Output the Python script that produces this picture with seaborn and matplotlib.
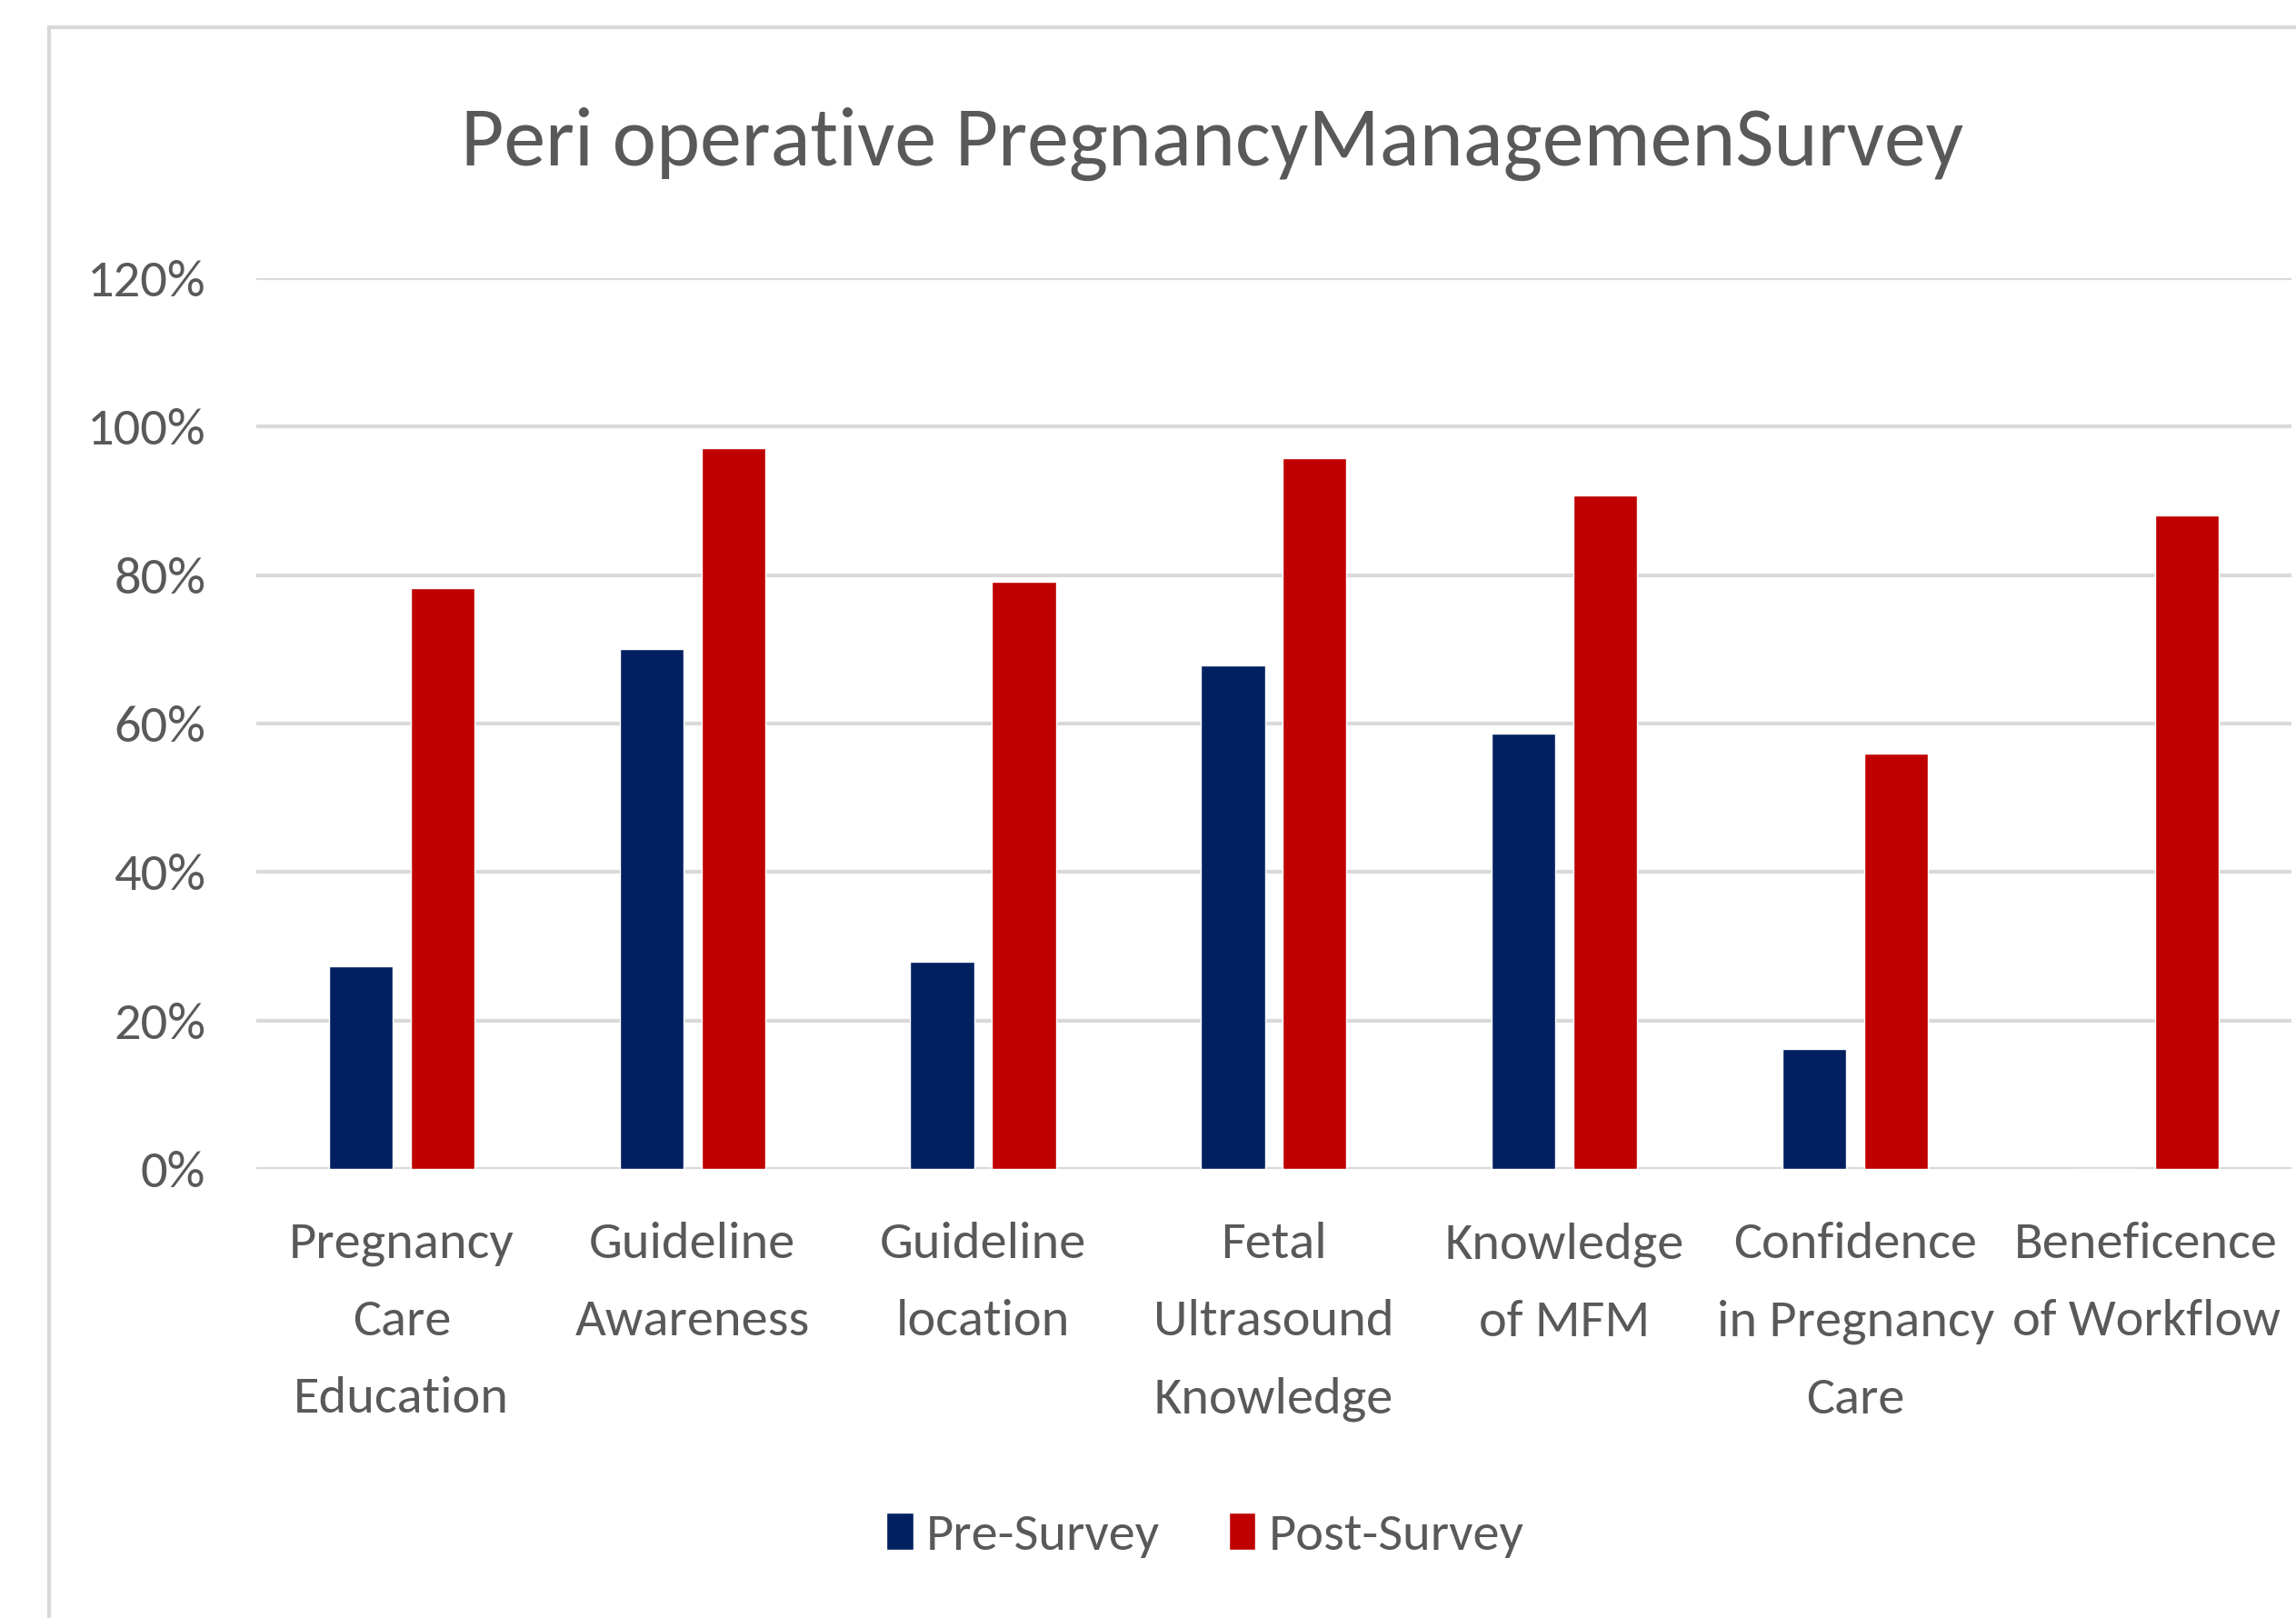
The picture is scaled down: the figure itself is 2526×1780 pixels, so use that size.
import matplotlib
matplotlib.use("Agg")
import matplotlib.pyplot as plt
from matplotlib.patches import Rectangle
from matplotlib.ticker import FuncFormatter
import pandas as pd
import seaborn as sns

# data (percent of respondents)
categories = [
    "Pregnancy\nCare\nEducation",
    "Guideline\nAwareness",
    "Guideline\nlocation",
    "Fetal\nUltrasound\nKnowledge",
    "Knowledge\nof MFM",
    "Confidence\nin Pregnancy\nCare",
    "Beneficence\nof Workflow",
]
pre_survey = [27.3, 70.0, 27.9, 67.8, 58.7, 16.2, 0.0]
post_survey = [78.3, 97.1, 79.1, 95.7, 90.7, 56.0, 88.0]
series_names = ["Pre-Survey", "Post-Survey"]
y_ticks = [0, 20, 40, 60, 80, 100, 120]

df = pd.DataFrame({
    "Category": categories * 2,
    "Survey": [series_names[0]] * len(categories) + [series_names[1]] * len(categories),
    "Value": pre_survey + post_survey,
})

sns.set_theme(style="white")
plt.rcParams["font.family"] = ["Carlito", "DejaVu Sans"]
text_grey = "#595959"
grid_grey = "#d9d9d9"

fig = plt.figure(figsize=(25.26, 17.80), dpi=100)
ax = fig.add_axes([0.1116, 0.2775, 0.8864, 0.5506])

sns.barplot(data=df, x="Category", y="Value", hue="Survey", order=categories,
            hue_order=series_names, palette=["#002060", "#C00000"],
            width=0.5625, gap=0.22, saturation=1, ax=ax)

ax.set_ylim(0, 120)
ax.set_yticks(y_ticks)
ax.yaxis.set_major_formatter(FuncFormatter(lambda v, p: f"{int(v)}%"))
ax.set_xlim(-0.5, len(categories) - 0.5)
ax.grid(axis="y", color=grid_grey, linewidth=3)
ax.set_axisbelow(True)
for s in ax.spines.values():
    s.set_visible(False)
ax.tick_params(axis="both", length=0, labelsize=42, colors=text_grey, pad=40)
ax.tick_params(axis="x", pad=42)
for lbl in ax.get_xticklabels():
    lbl.set_linespacing(1.9)
ax.set_xlabel("")
ax.set_ylabel("")

# legend at the bottom
handles, labels = ax.get_legend_handles_labels()
ax.get_legend().remove()
fig.legend(handles, labels, loc="center", bbox_to_anchor=(0.525, 0.051), ncol=2,
           frameon=False, fontsize=42, labelcolor=text_grey, handlelength=0.5,
           handleheight=0.68, handletextpad=0.25, columnspacing=1.3)

fig.text(0.528, 0.911, "Peri operative PregnancyManagemenSurvey", ha="center",
         va="center", fontsize=66, color=text_grey)

# chart area border (cropped on the right and bottom)
fig.add_artist(Rectangle((0.0214, -0.05), 1.2, 1.033, transform=fig.transFigure,
                         fill=False, edgecolor=grid_grey, linewidth=3, clip_on=False))

fig.savefig("out.png", dpi=100, facecolor="white")
